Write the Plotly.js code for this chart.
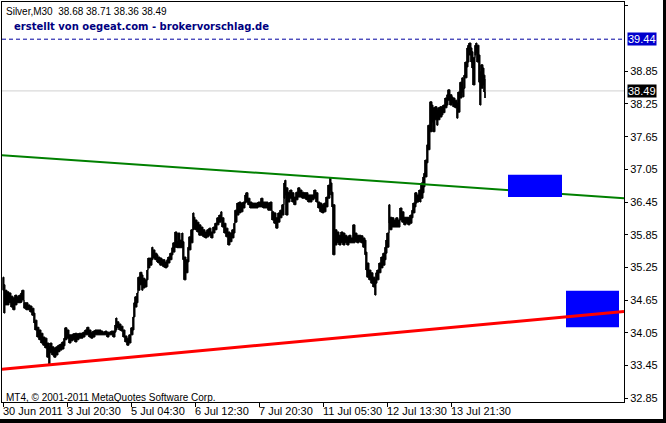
<!DOCTYPE html>
<html><head><meta charset="utf-8">
<script src="https://cdn.plot.ly/plotly-3.0.1.min.js"></script>
<style>html,body{margin:0;padding:0;background:#000;} #chart{width:663px;height:419px;}</style>
</head><body><div id="chart"></div>
<script>
// ---- Data: Silver M30, one entry per sampled bar (bar index, high, low) ----
const barIdx = [
  0,1,2,4,6,8,10,12,14,16,
  18,19,21,23,25,27,29,31,32,34,
  36,38,40,42,44,46,47,49,51,53,
  55,57,59,61,62,64,66,68,70,72,
  74,76,78,80,82,84,86,88,90,92,
  94,96,98,100,102,104,106,108,110,112,
  113,114,116,118,120,122,124,126,128,130,
  131,132,134,135,137,139,140,142,144,145,
  147,149,150,152,154,155,157,159,160,162,
  164,165,167,169,170,172,174,175,177,179,
  180,181,183,185,186,188,190,191,192,194,
  196,198,200,202,204,206,208,210,212,214,
  216,218,219,221,223,225,227,229,231,232,
  234,236,238,240,242,243,245,247,249,251,
  253,255,258,260,263,265,267,269,271,273,
  275,277,279,281,282,283,285,287,289,291,
  293,295,297,299,301,303,305,307,309,311,
  313,315,317,319,321,323,325,327,328,329,
  330,332,334,336,338,340,342,344,346,348,
  350,352,354,356,358,360,362,363,364,366,
  368,370,372,373,374,376,378,380,382,383,
  384,386,387,389,391,393,395,397,399,401,
  403,405,407,409,410,412,413,414,416,417,
  418,420,421,422,424,425,427,429,430,432,
  434,435,437,439,440,442,444,445,447,449,
  450,452,454,455,457,459,460,461,462,464,
  465,466,468,469,470,472,473,474,476,477,
  478,480,481,482
];
const highs = [
  35.07,34.93,34.83,34.80,34.78,34.72,34.69,34.74,34.71,34.74,
  34.78,34.83,34.60,34.60,34.56,34.54,34.50,34.41,34.28,34.15,
  34.10,34.04,33.97,33.95,33.86,33.79,33.86,33.79,33.77,33.79,
  33.82,33.84,33.88,33.95,34.14,34.10,34.01,34.01,34.03,34.04,
  34.03,34.04,34.04,34.06,34.10,34.15,34.10,34.06,34.08,34.10,
  34.10,34.10,34.08,34.06,34.08,34.06,34.06,34.08,34.08,34.19,
  34.32,34.25,34.21,34.17,34.10,33.99,33.95,34.01,34.14,34.34,
  34.60,34.71,34.78,35.07,35.16,35.11,35.05,35.02,35.20,35.42,
  35.42,35.62,35.57,35.51,35.48,35.44,35.42,35.39,35.39,35.35,
  35.39,35.44,35.51,35.61,35.70,35.90,35.72,35.88,35.75,35.88,
  35.72,35.44,35.39,35.62,35.81,35.94,36.25,36.17,36.12,36.08,
  36.03,35.99,35.94,35.90,35.94,35.97,35.90,35.99,36.06,36.16,
  36.21,36.27,36.16,36.06,35.97,35.90,35.88,35.94,36.06,36.30,
  36.43,36.45,36.43,36.45,36.58,36.62,36.52,36.45,36.43,36.43,
  36.43,36.45,36.52,36.45,36.45,36.43,36.45,36.27,36.25,36.16,
  36.25,36.30,36.40,36.80,36.85,36.71,36.63,36.67,36.62,36.54,
  36.63,36.71,36.67,36.63,36.62,36.62,36.58,36.58,36.58,36.67,
  36.62,36.45,36.43,36.40,36.43,36.54,36.76,36.89,36.80,36.63,
  36.40,35.94,35.90,35.84,35.90,35.88,35.84,35.81,35.84,35.79,
  36.03,35.88,35.84,35.84,35.83,35.79,35.75,35.53,35.33,35.20,
  35.15,35.07,35.02,35.15,35.20,35.33,35.44,35.51,35.62,35.75,
  35.88,36.40,36.17,36.16,36.12,36.16,36.12,36.34,36.27,36.17,
  36.17,36.17,36.21,36.30,36.43,36.62,36.62,36.58,36.67,36.67,
  36.80,36.91,36.98,37.22,37.50,37.86,38.29,38.23,38.18,38.20,
  38.14,38.18,38.20,38.20,38.23,38.36,38.42,38.51,38.42,38.38,
  38.36,38.32,38.27,38.47,38.65,38.73,38.54,38.78,39.02,39.28,
  39.33,39.37,39.28,39.21,39.10,39.33,39.37,39.33,39.15,38.84,
  38.97,38.91,38.78,38.71
];
const lows = [
  34.83,34.41,34.56,34.56,34.60,34.52,34.47,34.56,34.60,34.60,
  34.61,34.65,34.50,34.47,34.47,34.43,34.37,34.23,34.10,33.97,
  33.92,33.86,33.82,33.77,33.60,33.47,33.68,33.64,33.60,33.64,
  33.70,33.73,33.75,33.81,33.92,33.95,33.86,33.90,33.92,33.88,
  33.92,33.95,33.95,33.97,34.01,34.01,33.97,33.95,33.97,34.01,
  34.01,34.01,34.01,34.01,34.01,33.97,34.01,34.01,33.97,34.06,
  34.10,34.14,34.10,34.08,33.97,33.88,33.82,33.86,34.01,34.10,
  34.34,34.52,34.60,34.83,34.93,34.83,34.87,34.89,35.02,35.24,
  35.29,35.39,35.42,35.39,35.35,35.33,35.29,35.29,35.26,35.24,
  35.26,35.33,35.39,35.48,35.53,35.62,35.61,35.61,35.61,35.62,
  35.39,35.02,35.15,35.35,35.57,35.70,35.94,35.97,35.94,35.90,
  35.84,35.84,35.81,35.79,35.81,35.84,35.79,35.88,35.94,36.03,
  36.08,36.12,35.99,35.88,35.81,35.66,35.72,35.79,35.88,36.08,
  36.21,36.25,36.27,36.34,36.43,36.45,36.40,36.34,36.34,36.34,
  36.34,36.36,36.36,36.34,36.34,36.30,36.30,36.12,36.06,35.97,
  36.08,36.16,36.21,36.52,36.58,36.21,36.45,36.52,36.45,36.40,
  36.49,36.54,36.54,36.52,36.52,36.49,36.45,36.45,36.49,36.52,
  36.45,36.34,36.27,36.25,36.27,36.36,36.52,36.67,36.58,36.36,
  35.48,35.66,35.70,35.66,35.70,35.66,35.70,35.66,35.70,35.70,
  35.70,35.72,35.70,35.72,35.70,35.62,35.48,35.20,35.07,35.02,
  34.96,34.89,34.74,34.96,35.02,35.15,35.24,35.29,35.39,35.51,
  35.62,36.06,35.94,35.99,35.99,35.99,35.99,36.12,36.08,36.03,
  36.06,36.03,36.06,36.16,36.25,36.36,36.43,36.45,36.49,36.45,
  36.52,36.62,36.73,36.91,37.17,37.41,37.74,37.92,37.74,37.96,
  37.86,37.96,38.01,38.05,38.09,38.18,38.23,38.32,38.23,38.27,
  38.20,38.18,37.99,38.10,38.36,38.47,38.38,38.54,38.73,38.93,
  39.02,39.15,39.02,38.91,38.60,39.15,39.19,39.02,38.65,38.23,
  38.54,38.60,38.47,38.36
];

// Time axis labels (every 64 M30 bars)
const timeTickIdx = [0, 64, 128, 192, 256, 320, 384, 448];
const timeTickText = ['30 Jun 2011', '3 Jul 20:30', '5 Jul 04:30', '6 Jul 12:30',
                      '7 Jul 20:30', '11 Jul 05:30', '12 Jul 13:30', '13 Jul 21:30'];
// Price axis labels
const priceTicks = [32.85, 33.45, 34.05, 34.65, 35.25, 35.85, 36.45, 37.05, 37.65, 38.25, 38.85, 40.05];

// Trendlines
const greenLineIdx = [-1, 621];
const greenLinePrice = [37.31, 36.52];
const redLineIdx = [-1, 621];
const redLinePrice = [33.38, 34.44];

// Horizontal levels
const levelPrice = 39.44;
const bidPrice = 38.49;

// Blue zones
const zoneIdxStart = [505, 563];
const zoneIdxEnd = [559, 616];
const zonePriceLow = [36.54, 34.15];
const zonePriceHigh = [36.95, 34.82];

const headerText = 'Silver,M30  38.68 38.71 38.36 38.49';
const creditText = 'erstellt von oegeat.com - brokervorschlag.de';
const footerText = 'MT4, © 2001-2011 MetaQuotes Software Corp.';

const xRange = [-1, 621];
const yRange = [32.777, 40.123];

const axisFont = {family: 'Liberation Sans, Arial, sans-serif', size: 11, color: '#000'};

// vertical high-low bars built from the same arrays
const barX = [], barY = [];
barIdx.forEach((v, k) => { barX.push(v, v, null); barY.push(lows[k], highs[k], null); });

const traces = [
  {x: barIdx, y: lows, type: 'scatter', mode: 'lines', line: {color: '#000', width: 1, shape: 'hv'}, hoverinfo: 'skip'},
  {x: barIdx, y: highs, type: 'scatter', mode: 'lines', fill: 'tonexty', fillcolor: '#000',
   line: {color: '#000', width: 1, shape: 'hv'}, hoverinfo: 'skip'},
  {x: barX, y: barY, type: 'scatter', mode: 'lines', line: {color: '#000', width: 1.5}, connectgaps: false, hoverinfo: 'skip'},
  {x: greenLineIdx, y: greenLinePrice, type: 'scatter', mode: 'lines', line: {color: '#008000', width: 2}, hoverinfo: 'skip'},
  {x: redLineIdx, y: redLinePrice, type: 'scatter', mode: 'lines', line: {color: '#ff0000', width: 3}, hoverinfo: 'skip'}
];

const shapes = [
  {type: 'line', xref: 'paper', x0: 0, x1: 1, yref: 'y', y0: bidPrice, y1: bidPrice,
   line: {color: '#d0d0d0', width: 1}, layer: 'below'},
  {type: 'line', xref: 'paper', x0: 0, x1: 1, yref: 'y', y0: levelPrice, y1: levelPrice,
   line: {color: '#0000a0', width: 1, dash: '4px,3px'}, layer: 'above'},
  // zone 1 above the green line, zone 2 below the red line
  {type: 'rect', xref: 'x', yref: 'y', x0: zoneIdxStart[0], x1: zoneIdxEnd[0], y0: zonePriceLow[0], y1: zonePriceHigh[0],
   fillcolor: '#0000ff', line: {width: 0}, layer: 'above'},
  {type: 'rect', xref: 'x', yref: 'y', x0: zoneIdxStart[1], x1: zoneIdxEnd[1], y0: zonePriceLow[1], y1: zonePriceHigh[1],
   fillcolor: '#0000ff', line: {width: 0}, layer: 'below'}
];

const annotations = [
  {xref: 'paper', yref: 'paper', x: 0, y: 1, xanchor: 'left', yanchor: 'middle', xshift: 3, yshift: -9,
   text: headerText, showarrow: false, borderpad: 0, font: {family: 'Liberation Sans, Arial', size: 10, color: '#000'}},
  {xref: 'paper', yref: 'paper', x: 0, y: 1, xanchor: 'left', yanchor: 'middle', xshift: 11, yshift: -24,
   text: '<b>' + creditText + '</b>', showarrow: false, borderpad: 0, font: {family: 'DejaVu Sans', size: 10, color: '#000080'}},
  {xref: 'paper', yref: 'paper', x: 0, y: 0, xanchor: 'left', yanchor: 'middle', xshift: 3, yshift: 5,
   text: footerText, showarrow: false, borderpad: 0, font: {family: 'Liberation Sans, Arial', size: 10, color: '#000'}},
  {xref: 'paper', yref: 'y', x: 1, y: levelPrice, xanchor: 'left', yanchor: 'middle', xshift: 3,
   text: levelPrice.toFixed(2), showarrow: false, borderpad: 0, bgcolor: '#0000cd',
   font: {family: axisFont.family, size: 11, color: '#fff'}},
  {xref: 'paper', yref: 'y', x: 1, y: bidPrice, xanchor: 'left', yanchor: 'middle', xshift: 3,
   text: bidPrice.toFixed(2), showarrow: false, borderpad: 0, bgcolor: '#000',
   font: {family: axisFont.family, size: 11, color: '#fff'}}
];
timeTickIdx.forEach((v, k) => {
  annotations.push({xref: 'x', yref: 'paper', x: v, y: 0, xanchor: 'left', yanchor: 'top', xshift: -1, yshift: -2,
    text: timeTickText[k], showarrow: false, borderpad: 0, font: axisFont});
});

const layout = {
  width: 663, height: 419,
  margin: {l: 2, r: 39, t: 2, b: 17, pad: 0},
  paper_bgcolor: '#fff', plot_bgcolor: '#fff',
  showlegend: false,
  font: axisFont,
  xaxis: {range: xRange, showgrid: false, zeroline: false, showline: true, mirror: true,
          linecolor: '#000', linewidth: 1, ticks: 'outside', ticklen: 4, tickcolor: '#000',
          tickvals: timeTickIdx, showticklabels: false, fixedrange: true},
  yaxis: {side: 'right', range: yRange, showgrid: false, zeroline: false, showline: true, mirror: true,
          linecolor: '#000', linewidth: 1, ticks: 'outside', ticklen: 3, tickcolor: '#000',
          tickvals: priceTicks, ticktext: priceTicks.map(v => v.toFixed(2)), tickfont: axisFont, fixedrange: true},
  shapes: shapes,
  annotations: annotations
};

Plotly.newPlot('chart', traces, layout, {staticPlot: true, displayModeBar: false});
</script></body></html>
